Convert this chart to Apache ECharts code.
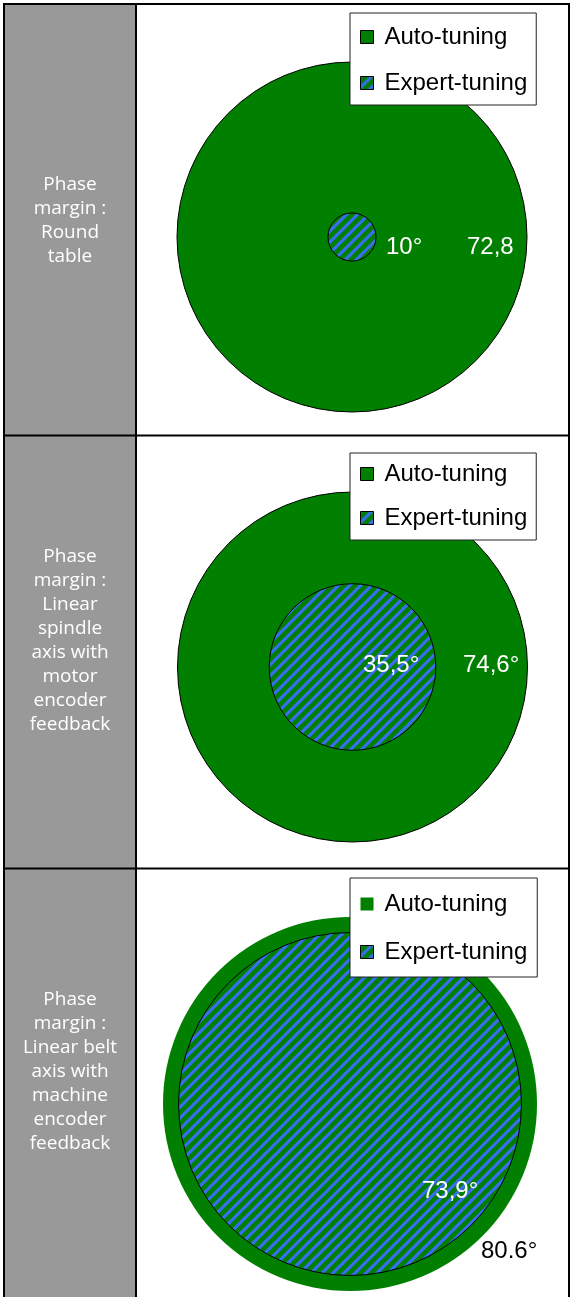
<!DOCTYPE html>
<html>
<head>
<meta charset="utf-8">
<script src="https://cdn.jsdelivr.net/npm/echarts@6/dist/echarts.min.js"></script>
<style>
  html, body { margin: 0; padding: 0; background: #fff; }
  #chart { width: 571px; height: 1297px; }
</style>
</head>
<body>
<div id="chart"></div>
<script>
// Row titles shown in the grey column, one array of lines per row
const rowTitles = [
  ['Phase', 'margin :', 'Round', 'table'],
  ['Phase', 'margin :', 'Linear', 'spindle', 'axis with', 'motor', 'encoder', 'feedback'],
  ['Phase', 'margin :', 'Linear belt', 'axis with', 'machine', 'encoder', 'feedback']
];
const seriesNames = ['Auto-tuning', 'Expert-tuning'];
// Phase margin in degrees, one entry per row
const autoValues = [72.8, 74.6, 80.6];
const expertValues = [10, 35.5, 73.9];
const autoLabels = ['72,8', '74,6°', '80.6°'];
const expertLabels = ['10°', '35,5°', '73,9°'];

const GREEN = '#007f00';
const BLUE = '#3a6ef2';

// Diagonal blue-on-green hatch used for the expert-tuning discs
function makeHatch() {
  const s = 22;
  const c = document.createElement('canvas');
  c.width = c.height = s;
  const g = c.getContext('2d');
  g.fillStyle = GREEN;
  g.fillRect(0, 0, s, s);
  g.strokeStyle = BLUE;
  g.lineWidth = 3.1;
  for (let k = -1; k <= 5; k++) {
    const d = k * s / 2;
    g.beginPath();
    g.moveTo(d + 4, -4);
    g.lineTo(d - s - 4, s + 4);
    g.stroke();
  }
  return c;
}
const hatch = { image: makeHatch(), repeat: 'repeat' };

// Layout of each row's disc pair and legend
const rows = [
  { center: [352, 237], radius: 175, legendTop: 13, pad: [12, 9, 10, 10], gap: 22, titleY: 220.5,
    expertPos: [386, 247], autoPos: [467, 247], autoColor: '#fff', outerBorder: 1 },
  { center: [352.5, 667], radius: 175, legendTop: 453, pad: [9, 9, 10, 10], gap: 20, titleY: 641,
    expertPos: [363, 665], autoPos: [463, 665], autoColor: '#fff', outerBorder: 1 },
  { center: [350, 1104], radius: 187, legendTop: 878, pad: [14, 10, 13, 10], gap: 24, titleY: 1072,
    expertPos: [422, 1191], autoPos: [481, 1251], autoColor: '#000', outerBorder: 0 }
];

const hidden = {
  axisLine: { show: false }, axisTick: { show: false },
  axisLabel: { show: false }, splitLine: { show: false }
};

const polar = rows.map(r => ({ center: r.center, radius: r.radius }));
const angleAxis = rows.map((r, i) => Object.assign({
  polarIndex: i, type: 'category', data: [''], startAngle: 90
}, hidden));
const radiusAxis = rows.map((r, i) => Object.assign({
  polarIndex: i, type: 'value', min: 0, max: autoValues[i]
}, hidden));

const series = [];
rows.forEach((r, i) => {
  series.push({
    type: 'bar', coordinateSystem: 'polar', polarIndex: i,
    name: seriesNames[0], data: [autoValues[i]],
    barGap: '-100%', barCategoryGap: '0%', silent: true,
    itemStyle: { color: GREEN, borderColor: '#000', borderWidth: r.outerBorder }
  });
  series.push({
    type: 'bar', coordinateSystem: 'polar', polarIndex: i,
    name: seriesNames[1], data: [expertValues[i]],
    barGap: '-100%', barCategoryGap: '0%', silent: true,
    itemStyle: { color: hatch, borderColor: '#000', borderWidth: 1 }
  });
});

const legend = rows.map(r => ({
  orient: 'vertical', left: 350, top: r.legendTop,
  padding: r.pad, itemGap: r.gap,
  backgroundColor: '#fff', borderColor: '#222', borderWidth: 1,
  selectedMode: false, icon: 'rect', itemWidth: 13, itemHeight: 13,
  textStyle: { fontFamily: 'Liberation Sans, Arial, sans-serif', fontSize: 24, color: '#000',
               lineHeight: 24, padding: [0, 0, 0, 6] },
  data: [
    { name: seriesNames[0], itemStyle: { borderColor: '#000', borderWidth: r.outerBorder } },
    { name: seriesNames[1], itemStyle: { borderColor: '#000', borderWidth: 1 } }
  ]
}));

// Table frame, grey title column and value labels
const graphics = [
  { type: 'rect', z: -10, shape: { x: 4, y: 4, width: 132, height: 1300 }, style: { fill: '#999999' } }
];
const border = { stroke: '#000', lineWidth: 2 };
[
  [3, 4, 570, 4], [4, 3, 4, 1300], [569, 3, 569, 1300], [136, 3, 136, 1300],
  [3, 435.5, 570, 435.5], [3, 868.5, 570, 868.5]
].forEach(l => graphics.push({
  type: 'line', z: 100, shape: { x1: l[0], y1: l[1], x2: l[2], y2: l[3] }, style: border
}));
rows.forEach((r, i) => {
  graphics.push({
    type: 'text', z: 100, x: 70, y: r.titleY,
    style: { text: rowTitles[i].join('\n'), fill: '#fff', font: '19px "Open Sans"',
             lineHeight: 24, align: 'center', verticalAlign: 'middle' }
  });
  graphics.push({
    type: 'text', z: 100, x: r.expertPos[0], y: r.expertPos[1],
    style: { text: expertLabels[i], fill: '#fff', font: '24px "Liberation Sans"',
             align: 'left', verticalAlign: 'middle' }
  });
  graphics.push({
    type: 'text', z: 100, x: r.autoPos[0], y: r.autoPos[1],
    style: { text: autoLabels[i], fill: r.autoColor, font: '24px "Liberation Sans"',
             align: 'left', verticalAlign: 'middle' }
  });
});

const chart = echarts.init(document.getElementById('chart'), null, { renderer: 'canvas' });
chart.setOption({
  animation: false,
  polar: polar,
  angleAxis: angleAxis,
  radiusAxis: radiusAxis,
  legend: legend,
  series: series,
  graphic: { elements: graphics }
});
</script>
</body>
</html>
